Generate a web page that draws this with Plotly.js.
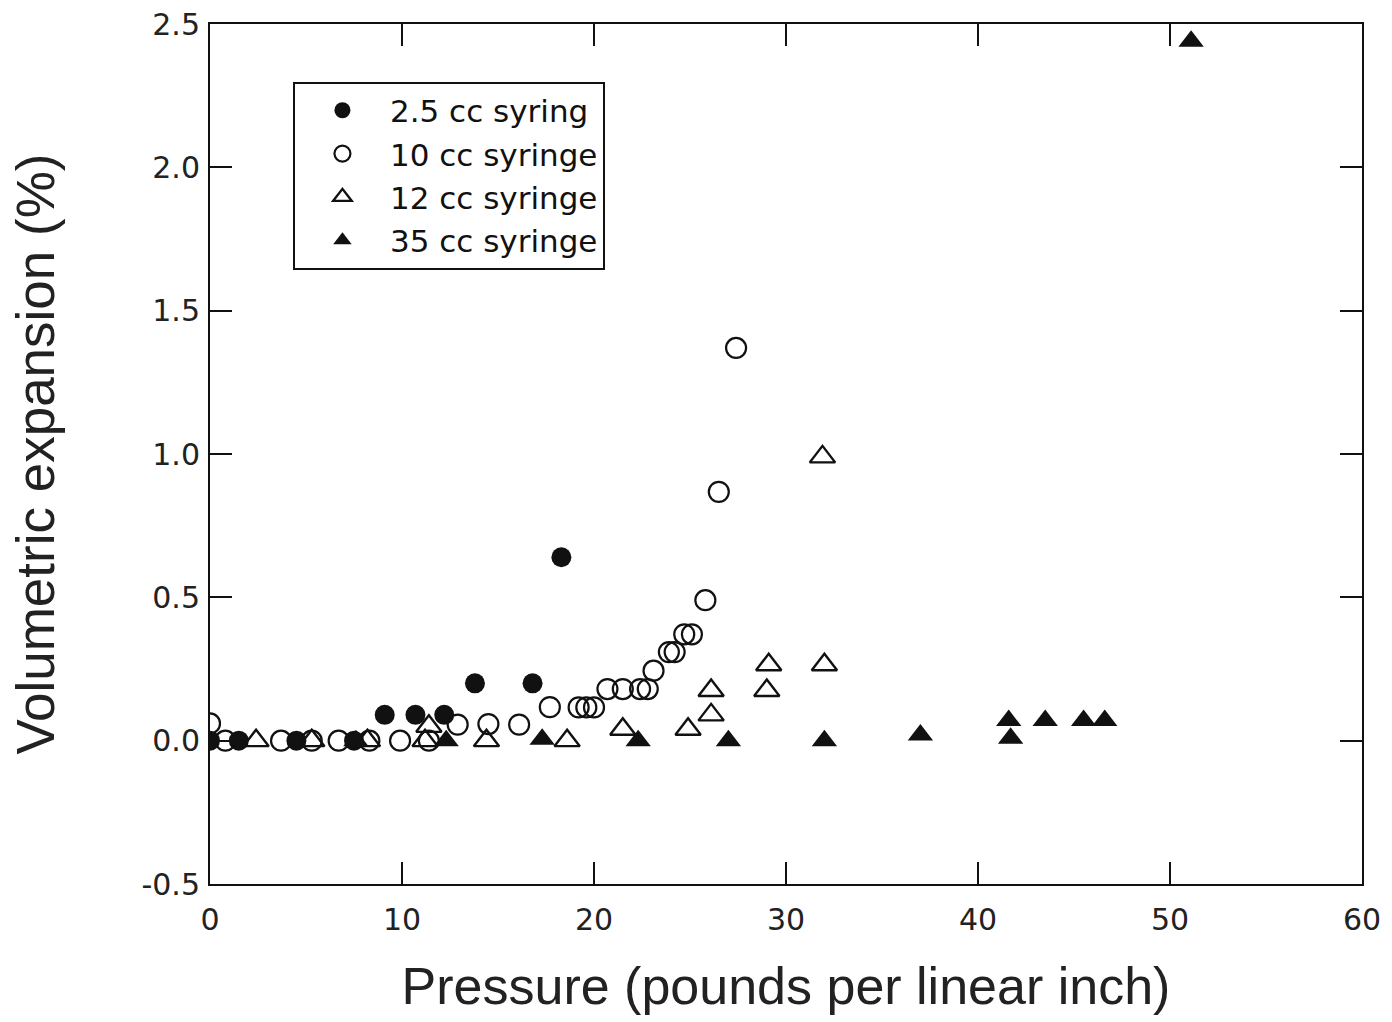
<!DOCTYPE html>
<html>
<head>
<meta charset="utf-8">
<script src="https://cdn.plot.ly/plotly-3.0.1.min.js"></script>
<style>html,body{margin:0;padding:0;background:#fff;}#chart{width:1392px;height:1022px;}</style>
</head>
<body>
<div id="chart"></div>
<script>
// Series names
const seriesNames = ["2.5 cc syring", "10 cc syringe", "12 cc syringe", "35 cc syringe"];

// 2.5 cc syringe (filled circles)
const x25 = [0, 1.5, 4.5, 7.5, 9.1, 10.7, 12.2, 13.8, 16.8, 18.3];
const y25 = [0, 0, 0, 0, 0.09, 0.09, 0.09, 0.2, 0.2, 0.64];

// 10 cc syringe (open circles)
const x10 = [0, 0.8, 3.7, 5.3, 6.7, 8.3, 9.9, 11.4, 12.9, 14.5, 16.1, 17.7, 19.2, 19.6, 20.0, 20.7, 21.5, 22.4, 22.8, 23.1, 23.9, 24.2, 24.7, 25.1, 25.8, 26.5, 27.4];
const y10 = [0.06, 0, 0, 0, 0, 0, 0, 0, 0.056, 0.058, 0.056, 0.117, 0.116, 0.116, 0.116, 0.18, 0.18, 0.18, 0.18, 0.244, 0.309, 0.309, 0.371, 0.371, 0.49, 0.868, 1.37];

// 12 cc syringe (open triangles)
const x12 = [2.4, 5.3, 8.2, 11.2, 11.4, 14.4, 18.6, 21.5, 24.9, 26.1, 26.1, 29.0, 29.1, 32.0, 31.9];
const y12 = [0.0, 0.0, 0.0, 0.0, 0.05, 0.0, 0.0, 0.04, 0.04, 0.09, 0.175, 0.175, 0.265, 0.265, 0.99];

// 35 cc syringe (filled triangles)
const x35 = [7.6, 12.3, 17.3, 22.3, 27.0, 32.0, 37.0, 41.7, 41.6, 43.5, 45.5, 46.6, 51.1];
const y35 = [0.0, 0.0, 0.005, 0.0, 0.0, 0.0, 0.02, 0.008, 0.07, 0.07, 0.07, 0.07, 2.44];

// Axis ticks
const xTicks = [0, 10, 20, 30, 40, 50, 60];
const yTicks = [-0.5, 0.0, 0.5, 1.0, 1.5, 2.0, 2.5];
const yTickText = ["-0.5", "0.0", "0.5", "1.0", "1.5", "2.0", "2.5"];

const FONT = "DejaVu Sans, Verdana, sans-serif";
const TFONT = "Liberation Sans, Arial, sans-serif";

const traces = [
  {x: x25, y: y25, name: seriesNames[0], mode: "markers", type: "scatter",
   marker: {symbol: "circle", size: 20, color: "#111", line: {width: 0}}},
  {x: x10, y: y10, name: seriesNames[1], mode: "markers", type: "scatter",
   marker: {symbol: "circle-open", size: 20, color: "#111", line: {width: 2.2, color: "#111"}}},
  {x: x12, y: y12, name: seriesNames[2], mode: "markers", type: "scatter",
   marker: {symbol: "triangle-up-open", size: 22, color: "#111", line: {width: 2.4, color: "#111"}}},
  {x: x35, y: y35, name: seriesNames[3], mode: "markers", type: "scatter",
   marker: {symbol: "triangle-up", size: 22, color: "#111", line: {width: 0}}}
];

const axisCommon = {
  showline: true, linecolor: "#111", linewidth: 2, mirror: "ticks",
  ticks: "inside", ticklen: 22, tickwidth: 2, tickcolor: "#111",
  showgrid: false, zeroline: false,
  tickfont: {family: FONT, size: 30, color: "#222"}
};

const layout = {
  width: 1392, height: 1022,
  paper_bgcolor: "#fff", plot_bgcolor: "#fff",
  margin: {l: 210, r: 30, t: 24, b: 138},
  showlegend: true,
  font: {family: FONT, color: "#222"},
  xaxis: Object.assign({}, axisCommon, {
    range: [0, 60], tickvals: xTicks, ticktext: xTicks.map(String),
    ticklabelstandoff: 8,
    title: {text: "Pressure (pounds per linear inch)", font: {family: TFONT, size: 52, color: "#222"}, standoff: 32},
    automargin: false
  }),
  yaxis: Object.assign({}, axisCommon, {
    range: [-0.5, 2.5], tickvals: yTicks, ticktext: yTickText,
    ticklabelstandoff: 2,
    title: {text: "Volumetric expansion (%)", font: {family: TFONT, size: 53, color: "#222"}, standoff: 70},
    automargin: false
  }),
  legend: {
    x: 0.072, y: 0.933, xanchor: "left", yanchor: "top",
    bgcolor: "#fff", bordercolor: "#111", borderwidth: 2,
    font: {family: FONT, size: 31, color: "#111"},
    itemwidth: 85, tracegroupgap: 0
  }
};

Plotly.newPlot("chart", traces, layout, {staticPlot: true, displayModeBar: false});
</script>
</body>
</html>
